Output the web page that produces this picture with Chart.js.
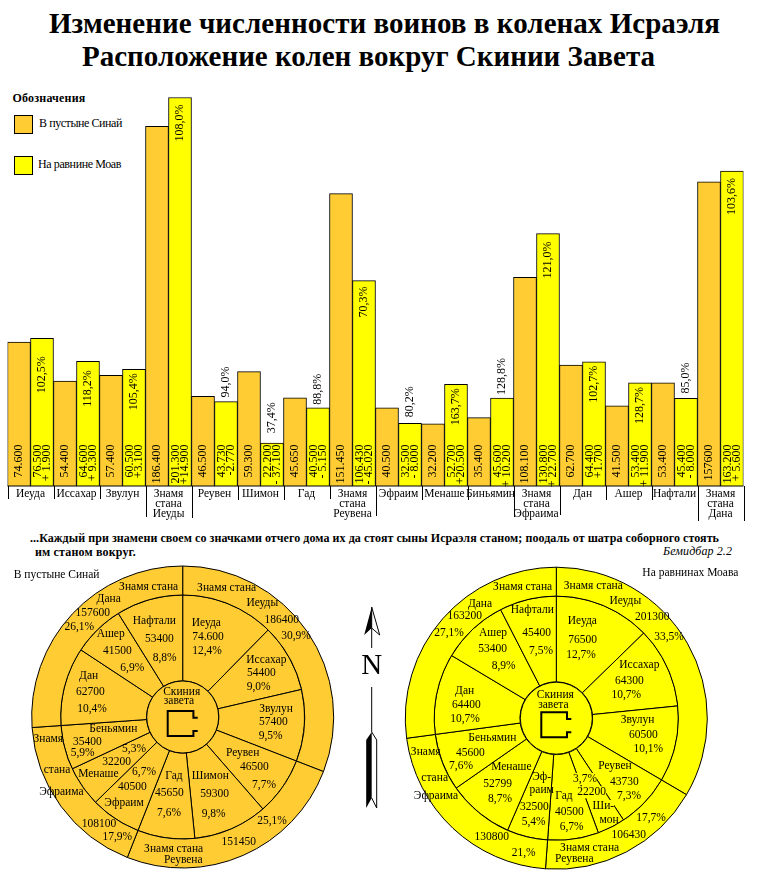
<!DOCTYPE html>
<html lang="ru">
<head>
<meta charset="utf-8">
<title>Изменение численности воинов</title>
<script src="https://cdn.jsdelivr.net/npm/chart.js@4"></script>
<style>
  html, body { margin: 0; padding: 0; background: #fff; }
  #page { position: relative; width: 758px; height: 873px; overflow: hidden; font-family: "Liberation Serif", serif; color: #000; }
  #page canvas { position: absolute; }
  .t { position: absolute; white-space: nowrap; line-height: 1; }
  .h1 { font-size: 29px; font-weight: bold; }
  .sw { position: absolute; width: 17px; height: 17px; border: 1px solid #000; }
  .small { font-size: 12px; }
  .bold { font-weight: bold; }
</style>
</head>
<body>
<div id="page">
  <div class="t h1" data-w="671" style="left:49px;top:9px">Изменение численности воинов в коленах Исраэля</div>
  <div class="t h1" data-w="573" style="left:82px;top:42px">Расположение колен вокруг Скинии Завета</div>
  <div class="t small bold" data-w="73" style="left:12.5px;top:92px">Обозначения</div>
  <div class="sw" style="left:14px;top:115px;background:#FFCC33"></div>
  <div class="t small" data-w="83" style="left:39px;top:117px">В пустыне Синай</div>
  <div class="sw" style="left:14px;top:156px;background:#FFFF00"></div>
  <div class="t small" data-w="83" style="left:38px;top:158px">На равнине Моав</div>
  <div class="t small bold" data-w="689" style="left:30px;top:532px">...Каждый при знамени своем со значками отчего дома их да стоят сыны Исраэля станом; поодаль от шатра соборного стоять</div>
  <div class="t small bold" data-w="101" style="left:35px;top:546px">им станом вокруг.</div>
  <div class="t small" data-w="69" style="left:663px;top:545px;font-style:italic">Бемидбар 2.2</div>
  <canvas id="bars" width="758" height="530" style="left:0;top:0"></canvas>
  <canvas id="sinai" width="350" height="313" style="left:0;top:560px"></canvas>
  <canvas id="moav" width="400" height="313" style="left:350px;top:560px"></canvas>
</div>

<script>
// ── ДАННЫЕ ─────────────────────────────────────
const ORANGE = '#FFCC33';
const YELLOW = '#FFFF00';

const groupLabels = ['Иеуда', 'Иссахар', 'Звулун', ['Знамя', 'стана', 'Иеуды'], 'Реувен', 'Шимон', 'Гад', ['Знамя', 'стана', 'Реувена'],
  'Эфраим', 'Менаше', 'Биньямин', ['Знамя', 'стана', 'Эфраима'], 'Дан', 'Ашер', 'Нафтали', ['Знамя', 'стана', 'Дана']];

const sinaiValues = [74600, 54400, 57400, 186400, 46500, 59300, 45650, 151450, 40500, 32200, 35400, 108100, 62700, 41500, 53400, 157600];
const moavValues  = [76500, 64600, 60500, 201300, 43730, 22200, 40500, 106430, 32500, 52700, 45600, 130800, 64400, 53400, 45400, 163200];

const sinaiTexts = ['74.600', '54.400', '57.400', '186.400', '46.500', '59.300', '45.650', '151.450', '40.500', '32.200', '35.400', '108.100', '62.700', '41.500', '53.400', '157600'];
const moavTexts  = ['76.500', '64.600', '60.500', '201.300', '43.730', '22.200', '40.500', '106.430', '32.500', '52.700', '45.600', '130.800', '64.400', '53.400', '45.400', '163.200'];
const diffTexts  = ['+ 1.900', '+ 9.300', '+3.100', '+14.900', '-2.770', '- 37.100', '- 5.150', '- 45.020', '- 8.000', '+20.500', '+ 10.200', '+ 22.700', '+1.700', '+ 11.900', '- 8.000', '+ 5.600'];
const pctTexts   = ['102,5%', '118,2%', '105,4%', '108,0%', '94,0%', '37,4%', '88,8%', '70,3%', '80,2%', '163,7%', '128,8%', '121,0%', '102,7%', '128,7%', '85,0%', '103,6%'];

const tribes = ['Иеуда', 'Иссахар', 'Звулун', 'Реувен', 'Шимон', 'Гад', 'Эфраим', 'Менаше', 'Беньямин', 'Дан', 'Ашер', 'Нафтали'];
const sinaiTribes = [74600, 54400, 57400, 46500, 59300, 45650, 40500, 32200, 35400, 62700, 41500, 53400];
const sinaiCamps  = [186400, 151450, 108100, 157600];
const moavTribes  = [76500, 64300, 60500, 43730, 22200, 40500, 32500, 52799, 45600, 64400, 53400, 45400];
const moavCamps   = [201300, 106430, 130800, 163200];

// ── РАЗМЕТКА ───────────────────────────────────
// смещение подписи процента от верха столбика: >0 внутри, <0 над ним
const pctGap = [18, 9, 4, 7, -4, -10, -3, 6, -6, 4, -3, 8, 4, 4, -5, 7];
// длина засечек под осью
const sepLen = [13, 13, 13, 31, 32, 14, 14, 13, 30, 14, 14, 31, 29, 14, 14, 35, 35];

// подписи кругов: текст и координаты (в утроенном масштабе от угла холста)
const sinaiLabels = [
  ['Знамя стана', 446, 80], ['Дана', 326, 116], ['157600', 278, 160], ['26,1%', 238, 201],
  ['Знамя стана', 680, 85], ['Иеуды', 787, 130], ['186400', 845, 180], ['30,9%', 888, 228],
  ['Знамя', 145, 537], ['стана', 171, 629], ['Эфраима', 184, 696], ['108100', 297, 793], ['17,9%', 352, 832],
  ['Знамя стана', 521, 868], ['Реувена', 550, 899], ['151450', 716, 847], ['25,1%', 816, 784],
  ['Иеуда', 619, 190], ['74.600', 624, 232], ['12,4%', 621, 273],
  ['Иссахар', 799, 299], ['54400', 784, 339], ['9,0%', 776, 381],
  ['Звулун', 828, 446], ['57400', 820, 486], ['9,5%', 812, 529],
  ['Реувен', 728, 578], ['46500', 763, 621], ['7,7%', 792, 674],
  ['Шимон', 631, 649], ['59300', 644, 702], ['9,8%', 641, 763],
  ['Гад', 522, 647], ['45650', 508, 698], ['7,6%', 507, 760],
  ['Эфраим', 372, 728], ['40500', 397, 680], ['6,7%', 432, 635],
  ['Менаше', 295, 643], ['32200', 350, 606], ['5,3%', 402, 568],
  ['Беньямин', 340, 508], ['35400', 262, 545], ['5,9%', 248, 580],
  ['Дан', 266, 348], ['62700', 271, 396], ['10,4%', 276, 447],
  ['Ашер', 332, 222], ['41500', 352, 273], ['6,9%', 397, 323],
  ['Нафтали', 463, 184], ['53400', 478, 236], ['8,8%', 494, 293],
  ['Скиния', 545, 395], ['завета', 537, 422],
  ['В пустыне Синай', 170, 46]
];
const moavLabels = [
  ['Знамя стана', 518, 80], ['Дана', 390, 131], ['163200', 344, 169], ['27,1%', 297, 220],
  ['Знамя стана', 730, 78], ['Иеуды', 826, 122], ['201300', 907, 172], ['33,5%', 957, 232],
  ['Знамя', 227, 577], ['стана', 254, 654], ['Эфраима', 258, 707], ['130800', 425, 831], ['21,%', 521, 880],
  ['Знамя стана', 719, 865], ['Реувена', 673, 897], ['106430', 836, 825], ['17,7%', 903, 774],
  ['Иеуда', 697, 182], ['76500', 698, 240], ['12,7%', 693, 286],
  ['Иссахар', 868, 314], ['64300', 838, 363], ['10,7%', 829, 405],
  ['Звулун', 863, 480], ['60500', 880, 525], ['10,1%', 895, 567],
  ['Реувен', 795, 617], ['43730', 823, 665], ['7,3%', 837, 708],
  ['3,7%', 705, 657, true], ['22200', 725, 697, true], ['Ши-', 760, 738, true], ['мон', 777, 781],
  ['Гад', 642, 709], ['40500', 658, 757], ['6,7%', 665, 801],
  ['Эф-', 575, 652], ['раим', 575, 690], ['32500', 553, 741], ['5,4%', 551, 785],
  ['Менаше', 484, 622], ['52799', 443, 672], ['8,7%', 450, 718],
  ['Беньямин', 427, 533], ['45600', 361, 579], ['7,6%', 333, 619],
  ['Дан', 344, 394], ['64400', 349, 435], ['10,7%', 345, 477],
  ['Ашер', 429, 218], ['53400', 428, 267], ['8,9%', 461, 318],
  ['Нафтали', 547, 151], ['45400', 560, 218], ['7,5%', 573, 273],
  ['Скиния', 616, 406], ['завета', 610, 434],
  ['На равнинах Моава', 1021, 38]
];

const SERIF = '"Liberation Serif", serif';

// подгонка ширины строк под оригинал
document.querySelectorAll('[data-w]').forEach(el => {
  const w = el.getBoundingClientRect().width;
  el.style.letterSpacing = ((+el.dataset.w - w) / el.textContent.length) + 'px';
});

// ── СТОЛБИКИ ───────────────────────────────────
const barTextPlugin = {
  id: 'barText',
  afterDatasetsDraw(chart) {
    const { ctx, chartArea, scales } = chart;
    const m0 = chart.getDatasetMeta(0).data;
    const m1 = chart.getDatasetMeta(1).data;
    const rotated = (text, x, y, align) => {
      ctx.save();
      ctx.translate(x, y);
      ctx.rotate(-Math.PI / 2);
      ctx.textAlign = align;
      ctx.textBaseline = 'middle';
      ctx.fillText(text, 0, 0);
      ctx.restore();
    };
    ctx.save();
    ctx.font = '12px ' + SERIF;
    ctx.fillStyle = '#000';
    const textEnd = scales.y.getPixelForValue(21500);
    groupLabels.forEach((_, i) => {
      rotated(sinaiTexts[i], m0[i].x, textEnd, 'right');
      rotated(moavTexts[i], m1[i].x - 4.5, textEnd, 'right');
      rotated(diffTexts[i], m1[i].x + 5, textEnd, 'right');
      const gap = pctGap[i];
      if (gap > 0) rotated(pctTexts[i], m1[i].x, m1[i].y + gap, 'right');
      else rotated(pctTexts[i], m1[i].x, m1[i].y + gap, 'left');
    });
    // базовая линия и засечки групп
    ctx.strokeStyle = '#000';
    ctx.lineWidth = 1;
    const step = (chartArea.right - chartArea.left) / groupLabels.length;
    ctx.beginPath();
    ctx.moveTo(chartArea.left, chartArea.bottom);
    ctx.lineTo(chartArea.right, chartArea.bottom);
    sepLen.forEach((len, i) => {
      const x = Math.round(chartArea.left + step * i) + 0.5;
      ctx.moveTo(x, chartArea.bottom);
      ctx.lineTo(x, chartArea.bottom + len);
    });
    ctx.stroke();
    ctx.restore();
  }
};

new Chart(document.getElementById('bars'), {
  type: 'bar',
  data: {
    labels: groupLabels,
    datasets: [
      { label: 'В пустыне Синай', data: sinaiValues, backgroundColor: ORANGE, borderColor: '#000', borderWidth: 1 },
      { label: 'На равнине Моав', data: moavValues, backgroundColor: YELLOW, borderColor: '#000', borderWidth: 1 }
    ]
  },
  options: {
    responsive: false,
    animation: false,
    layout: { padding: { left: 7.5, right: 14.5, top: 80.7, bottom: 0 } },
    plugins: { legend: { display: false }, tooltip: { enabled: false } },
    datasets: { bar: { barPercentage: 1, categoryPercentage: 1 } },
    scales: {
      x: {
        grid: { display: false, drawTicks: false },
        border: { display: false },
        ticks: { color: '#000', font: { family: SERIF, size: 11.5, lineHeight: 0.88 }, autoSkip: false, maxRotation: 0, minRotation: 0, padding: 3 },
        afterFit: s => { s.height = 44; }
      },
      y: { display: false, min: 0, max: 210000 }
    }
  },
  plugins: [barTextPlugin]
});

// ── КРУГИ ──────────────────────────────────────
function tabernacle(ctx, cx, cy, fill) {
  ctx.save();
  ctx.beginPath();
  ctx.arc(cx, cy, 36, 0, Math.PI * 2);
  ctx.fillStyle = fill;
  ctx.fill();
  ctx.strokeStyle = '#000';
  ctx.lineWidth = 1;
  ctx.stroke();
  ctx.lineWidth = 2;
  ctx.beginPath();
  ctx.moveTo(cx + 15, cy + 0.7);
  ctx.lineTo(cx + 10.7, cy + 0.7);
  ctx.lineTo(cx + 10.7, cy - 6);
  ctx.lineTo(cx - 15, cy - 6);
  ctx.lineTo(cx - 15, cy + 19);
  ctx.lineTo(cx + 10.7, cy + 19);
  ctx.lineTo(cx + 10.7, cy + 14);
  ctx.lineTo(cx + 15, cy + 14);
  ctx.stroke();
  ctx.restore();
}

function makeRing(id, tribeVals, campVals, fill, labels, padding, extra) {
  new Chart(document.getElementById(id), {
    type: 'doughnut',
    data: {
      labels: tribes,
      datasets: [
        { label: 'Станы', data: campVals, weight: 29, backgroundColor: fill, borderColor: '#000', borderWidth: 1 },
        { label: 'Колена', data: tribeVals, weight: 86, backgroundColor: fill, borderColor: '#000', borderWidth: 1 }
      ]
    },
    options: {
      responsive: false,
      animation: false,
      radius: 151,
      cutout: 36,
      layout: { padding },
      plugins: { legend: { display: false }, tooltip: { enabled: false } }
    },
    plugins: [{
      id: 'ringText',
      afterDatasetsDraw(chart) {
        const { ctx, chartArea } = chart;
        const cx = (chartArea.left + chartArea.right) / 2;
        const cy = (chartArea.top + chartArea.bottom) / 2;
        tabernacle(ctx, cx, cy, fill);
        ctx.save();
        ctx.font = '11.5px ' + SERIF;
        ctx.textAlign = 'center';
        ctx.textBaseline = 'middle';
        labels.forEach(([text, zx, zy, bg]) => {
          const x = zx / 3, y = zy / 3;
          if (bg) {
            const w = ctx.measureText(text).width;
            ctx.fillStyle = fill;
            ctx.fillRect(x - w / 2, y - 6, w, 12);
          }
          ctx.fillStyle = '#000';
          ctx.fillText(text, x, y);
        });
        ctx.restore();
        if (extra) extra(ctx);
      }
    }]
  });
}

// стрелка «север» между кругами
function compass(ctx) {
  const x = 21.7;
  ctx.save();
  ctx.strokeStyle = '#000';
  ctx.fillStyle = '#000';
  ctx.lineWidth = 1;
  ctx.beginPath();
  ctx.moveTo(x, 47); ctx.lineTo(x - 7.5, 75); ctx.lineTo(x, 68); ctx.closePath();
  ctx.fill();
  ctx.beginPath();
  ctx.moveTo(x, 47); ctx.lineTo(x + 8, 75); ctx.lineTo(x, 68);
  ctx.moveTo(x, 47); ctx.lineTo(x, 88);
  ctx.moveTo(x, 127); ctx.lineTo(x, 172);
  ctx.stroke();
  ctx.beginPath();
  ctx.moveTo(x, 172); ctx.lineTo(x - 5.5, 180); ctx.lineTo(x - 5.5, 248); ctx.lineTo(x, 238); ctx.closePath();
  ctx.fill();
  ctx.beginPath();
  ctx.moveTo(x, 172); ctx.lineTo(x + 5, 180); ctx.lineTo(x + 5, 248); ctx.lineTo(x, 238);
  ctx.stroke();
  ctx.font = '29px ' + SERIF;
  ctx.textAlign = 'center';
  ctx.textBaseline = 'middle';
  ctx.fillText('N', x, 106.5);
  ctx.restore();
}

makeRing('sinai', sinaiTribes, sinaiCamps, ORANGE, sinaiLabels, { left: 31.7, right: 16.3, top: 4, bottom: 3 });
makeRing('moav', moavTribes, moavCamps, YELLOW, moavLabels, { left: 56.3, right: 43.7, top: 4.7, bottom: 1.3 }, compass);
</script>
</body>
</html>
